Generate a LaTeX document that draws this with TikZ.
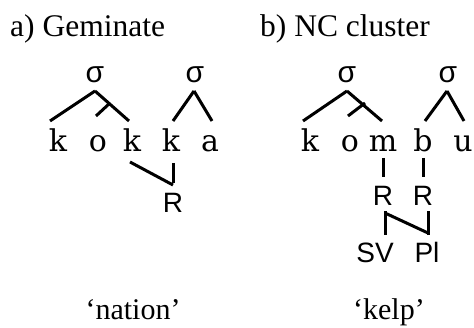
\documentclass[tikz,border=0pt]{standalone}
\usepackage{fontspec}
\setmainfont{Liberation Serif}
\newfontfamily\segfont{DejaVu Serif}
\newfontfamily\sansf{Liberation Sans}
\usetikzlibrary{calc}
\begin{document}
\begin{tikzpicture}[x=1pt,y=-1pt,
  lbl/.style={inner sep=0pt,anchor=base,font=\fontsize{31.5}{36}\selectfont},
  gloss/.style={inner sep=0pt,anchor=base,font=\fontsize{30}{34}\selectfont},
  seg/.style={inner sep=0pt,anchor=base,font=\segfont\fontsize{30}{34}\selectfont},
  feat/.style={inner sep=0pt,anchor=base,font=\sansf\fontsize{28}{32}\selectfont},
  syl/.style={inner sep=0pt,anchor=base,font=\sansf\fontsize{30}{34}\selectfont},
  assoc/.style={line width=3pt,line cap=butt}]
\useasboundingbox (0,0) rectangle (474,328);
% titles
\node[lbl,anchor=base west] (ta) at (10,37) {a) Geminate};
\node[lbl,anchor=base west] (tb) at (260,37) {b) NC cluster};
% tree a
\node[syl] (s1) at (95,83) {σ};
\node[syl] (s2) at (195,83) {σ};
\node[seg] (k1) at (58,152) {k};
\node[seg] (o1) at (98,152) {o};
\node[seg] (k2) at (132,152) {k};
\node[seg] (k3) at (171,152) {k};
\node[seg] (a1) at (210,152) {a};
\node[feat] (R1) at (173,213) {R};
\draw[assoc] ($(s1.base)+(0,8)$) -- ($(k1.base)+(-8,-31)$);
\draw[assoc] ($(s1.base)+(0,8)$) -- ($(k2.base)+(-3,-31)$);
\draw[assoc] ($(s1.base)+(15,20)$) -- ($(o1.base)+(-2,-36)$);
\draw[assoc] ($(s2.base)+(-1,8)$) -- ($(k3.base)+(2,-31)$);
\draw[assoc] ($(s2.base)+(-1,8)$) -- ($(a1.base)+(2,-31)$);
\draw[assoc] ($(k2.base)+(-2,10)$) -- ($(R1.base)+(0,-28)$);
\draw[assoc] ($(k3.base)+(2,11)$) -- ($(R1.base)+(0,-29.5)$);
% tree b
\node[syl] (s3) at (347,83) {σ};
\node[syl] (s4) at (448,83) {σ};
\node[seg] (k4) at (310,152) {k};
\node[seg] (o2) at (350,152) {o};
\node[seg] (m1) at (383,152) {m};
\node[seg] (b1) at (423,152) {b};
\node[seg] (u1) at (463,152) {u};
\node[feat] (R2) at (383,206) {R};
\node[feat] (R3) at (423,206) {R};
\node[feat] (SV) at (375,263) {SV};
\node[feat] (Pl) at (427,263) {Pl};
\draw[assoc] ($(s3.base)+(0,8)$) -- ($(k4.base)+(-7,-31)$);
\draw[assoc] ($(s3.base)+(0,8)$) -- ($(m1.base)+(-1,-31)$);
\draw[assoc] ($(s3.base)+(18,20)$) -- ($(o2.base)+(-2,-36)$);
\draw[assoc] ($(s4.base)+(-1,8)$) -- ($(b1.base)+(2,-31)$);
\draw[assoc] ($(s4.base)+(-1,8)$) -- ($(u1.base)+(1,-31)$);
\draw[assoc] ($(m1.base)+(0,6)$) -- ($(R2.base)+(0,-29)$);
\draw[assoc] ($(b1.base)+(0,6)$) -- ($(R3.base)+(0,-29)$);
\draw[assoc] ($(R2.base)+(2,5.5)$) -- ($(SV.base)+(10,-28)$);
\draw[assoc] ($(R2.base)+(2,7)$) -- ($(Pl.base)+(1,-30)$);
\draw[assoc] ($(R3.base)+(5,5.5)$) -- ($(Pl.base)+(1,-28)$);
% glosses
\node[gloss] (g1) at (133,320) {‘nation’};
\node[gloss] (g2) at (389,320) {‘kelp’};
\end{tikzpicture}
\end{document}
